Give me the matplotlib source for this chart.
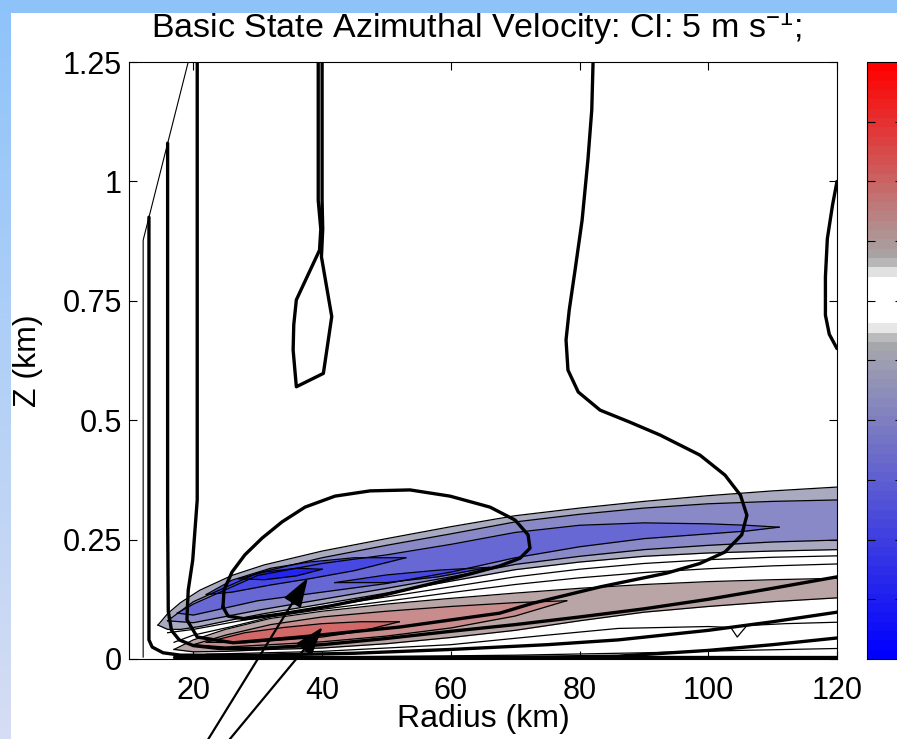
import numpy as np
import matplotlib
matplotlib.use('Agg')
import matplotlib.pyplot as plt
from matplotlib.colors import LinearSegmentedColormap, Normalize
from matplotlib.patches import Rectangle
from matplotlib.cm import ScalarMappable

plt.rcParams['font.family'] = ['Liberation Sans', 'DejaVu Sans']
plt.rcParams['mathtext.fontset'] = 'custom'
plt.rcParams['mathtext.rm'] = 'Liberation Sans'
plt.rcParams['mathtext.it'] = 'Liberation Sans'

# ---------------- text / ticks ----------------
title_text = 'Basic State Azimuthal Velocity: CI: 5 m s$^{-1}$;'
x_label = 'Radius (km)'
y_label = 'Z (km)'
x_ticks = [20, 40, 60, 80, 100, 120]
y_ticks = [0, 0.25, 0.5, 0.75, 1, 1.25]
y_tick_labels = ['0', '0.25', '0.5', '0.75', '1', '1.25']
cbar_range = [-12, 8]
cbar_ticks = [-10, -8, -6, -4, -2, 0, 2, 4, 6]

# ---------------- shaded field (radius km, lower z, upper z) ----------------
b1_r = [14.5, 16, 18, 21, 26, 31, 40, 50, 60, 70, 80, 90, 100, 110, 120]
b1_lo = [0.071, 0.062, 0.062, 0.068, 0.082, 0.095, 0.115, 0.138, 0.163, 0.187, 0.203, 0.215, 0.222, 0.226, 0.229]
b1_hi = [0.071, 0.095, 0.118, 0.144, 0.175, 0.197, 0.226, 0.252, 0.277, 0.300, 0.316, 0.330, 0.342, 0.352, 0.360]

b2_r = [16, 20, 30, 40, 50, 60, 70, 80, 90, 100, 110, 120]
b2_lo = [0.080, 0.076, 0.102, 0.125, 0.148, 0.172, 0.198, 0.215, 0.229, 0.238, 0.245, 0.249]
b2_hi = [0.080, 0.120, 0.180, 0.212, 0.238, 0.262, 0.287, 0.303, 0.316, 0.325, 0.330, 0.333]

b3_r = [17.5, 20, 30, 40, 50, 60, 70, 80, 90, 100, 106, 111]
b3_lo = [0.096, 0.092, 0.122, 0.140, 0.158, 0.182, 0.212, 0.235, 0.252, 0.262, 0.268, 0.276]
b3_hi = [0.096, 0.115, 0.175, 0.200, 0.218, 0.240, 0.265, 0.280, 0.285, 0.283, 0.280, 0.276]

b4a_r = [22, 26, 32, 38, 45, 53]
b4a_lo = [0.135, 0.140, 0.155, 0.168, 0.185, 0.212]
b4a_hi = [0.135, 0.165, 0.190, 0.203, 0.212, 0.212]

b4b_r = [42, 50, 58, 66]
b4b_lo = [0.160, 0.160, 0.172, 0.192]
b4b_hi = [0.160, 0.176, 0.186, 0.192]

b5_r = [27, 31, 36, 40]
b5_lo = [0.168, 0.166, 0.174, 0.188]
b5_hi = [0.168, 0.182, 0.190, 0.188]

r1_r = [17, 20, 25, 32, 40, 50, 60, 70, 80, 90, 100, 110, 120]
r1_lo = [0.020, 0.015, 0.016, 0.020, 0.023, 0.032, 0.045, 0.060, 0.080, 0.098, 0.110, 0.120, 0.128]
r1_hi = [0.020, 0.040, 0.062, 0.085, 0.100, 0.115, 0.127, 0.138, 0.148, 0.156, 0.162, 0.166, 0.169]

r2_r = [20, 25, 32, 40, 50, 60, 70, 78]
r2_lo = [0.030, 0.025, 0.030, 0.036, 0.048, 0.065, 0.090, 0.122]
r2_hi = [0.030, 0.050, 0.072, 0.088, 0.100, 0.110, 0.118, 0.122]

r3_r = [22, 28, 34, 40, 46, 52]
r3_lo = [0.035, 0.034, 0.040, 0.046, 0.058, 0.078]
r3_hi = [0.035, 0.055, 0.066, 0.074, 0.078, 0.078]

band_colors = {'b1': '#A9A9C0', 'b2': '#8989C8', 'b3': '#6868D4', 'b4': '#4848E2',
               'b5': '#2424F2', 'r1': '#B9A5A5', 'r2': '#C88C8C', 'r3': '#D26868'}

# thin contours of the shaded field in the unshaded gaps
w1_r = [16, 20, 26, 32, 40, 50, 60, 70, 80, 90, 100, 110, 120]
w1_z = [0.055, 0.062, 0.077, 0.091, 0.109, 0.130, 0.151, 0.172, 0.188, 0.200, 0.208, 0.213, 0.216]
w2_r = [17, 20, 26, 32, 40, 50, 60, 70, 80, 90, 100, 110, 120]
w2_z = [0.035, 0.050, 0.068, 0.088, 0.104, 0.121, 0.139, 0.156, 0.170, 0.181, 0.189, 0.195, 0.199]
u1_r = [22, 40, 60, 75, 86, 100, 103.5, 104.5, 106, 112, 120]
u1_z = [0.010, 0.016, 0.030, 0.050, 0.064, 0.068, 0.066, 0.046, 0.070, 0.074, 0.077]
u2_r = [40, 70, 90, 105, 120]
u2_z = [0.004, 0.008, 0.013, 0.018, 0.022]

# edge of the domain (thin line at upper left)
edge_r = [19.2, 12.2, 12.2]
edge_z = [1.25, 0.877, 0.004]

# ---------------- azimuthal velocity contours (thick) ----------------
ks_r = [82.1, 81.9, 81.3, 80.4, 79.3, 78.4, 77.9, 78.2, 79.8, 83.2, 87.8, 92.5, 98.7, 102.6,
        105.0, 106.0, 105.2, 102.6, 98.7, 93.6, 83.2, 72.8, 67.6, 52.1, 36.6, 26.2, 20.6,
        19.0, 19.2, 19.9, 20.6, 20.6]
ks_z = [1.25, 1.15, 1.045, 0.919, 0.814, 0.731, 0.668, 0.605, 0.559, 0.521, 0.496, 0.469, 0.427, 0.385,
        0.343, 0.301, 0.260, 0.224, 0.200, 0.180, 0.151, 0.117, 0.096, 0.067, 0.046, 0.034, 0.046,
        0.082, 0.144, 0.207, 0.333, 1.25]

klobe_r = [24.6, 24.76, 26.0, 28.0, 30.67, 33.77, 37.35, 42.0, 47.45, 53.66, 59.88, 66.09, 69.98,
           72.0, 72.3, 70.75, 67.64, 62.98, 56.77, 49.0, 41.23, 33.46, 28.02, 25.38, 24.6]
klobe_z = [0.109, 0.1445, 0.182, 0.218, 0.253, 0.287, 0.318, 0.341, 0.352, 0.354, 0.341, 0.318, 0.291,
           0.260, 0.232, 0.211, 0.195, 0.178, 0.157, 0.132, 0.111, 0.094, 0.084, 0.090, 0.109]

kt_r = [39.4, 39.4, 39.8, 39.6, 36.0, 35.6, 35.5, 36.0, 40.2, 41.5, 39.9, 40.1, 40.0, 40.0]
kt_z = [1.25, 0.96, 0.90, 0.856, 0.752, 0.70, 0.647, 0.570, 0.598, 0.717, 0.842, 0.90, 0.96, 1.25]

k2_r = [16.0, 16.0, 16.1, 16.6, 17.8, 20, 24, 30, 40, 50, 60, 70, 80, 90, 100, 110, 120]
k2_z = [1.08, 0.30, 0.10, 0.060, 0.040, 0.028, 0.022, 0.022, 0.030, 0.043, 0.058, 0.072, 0.088, 0.105, 0.125, 0.148, 0.172]

k3_r = [13.1, 13.1, 13.1, 13.6, 15.3, 18, 30, 45, 60, 75, 86, 100, 110, 120]
k3_z = [0.925, 0.30, 0.040, 0.025, 0.013, 0.008, 0.008, 0.012, 0.020, 0.030, 0.040, 0.060, 0.078, 0.098]

k4_r = [17, 120]
k4_z = [0.004, 0.004]

k5_r = [60, 75, 86, 100, 110, 120]
k5_z = [0.003, 0.004, 0.006, 0.018, 0.030, 0.044]

kr_r = [120, 119.3, 118.5, 118.2, 118.2, 118.8, 120]
kr_z = [1.00, 0.95, 0.88, 0.80, 0.72, 0.68, 0.65]

# annotation arrows: (tail, tip) in data units
arrow1 = ((21.3, -0.19), (37.8, 0.170))
arrow2 = ((24.3, -0.19), (40.1, 0.067))

# ---------------- figure ----------------
W, H = 897, 739
TOP = 13  # height of the slide strip at the top, px
fig = plt.figure(figsize=(W / 100, H / 100), dpi=100)
fig.patch.set_facecolor('white')

# slide background: left gradient strip and top strip
axbg = fig.add_axes([0, 0, 10 / W, 1])
grad_cmap = LinearSegmentedColormap.from_list('g', ['#D6DDF3', '#8EC3FA'])
axbg.imshow(np.linspace(0, 1, 256).reshape(-1, 1), cmap=grad_cmap, aspect='auto',
            origin='lower', extent=[0, 1, 0, 1])
axbg.set_axis_off()
fig.patches.append(Rectangle((0, 1 - TOP / H), 1, TOP / H, transform=fig.transFigure,
                             facecolor='#8EC3FA', edgecolor='none', zorder=20))

ax = fig.add_axes([129 / W, 80 / H, 708 / W, 597 / H])
ax.set_xlim(10, 120)
ax.set_ylim(0, 1.25)


def band(r, lo, hi, color):
    ax.fill_between(r, lo, hi, color=color, lw=0, zorder=1)
    ax.plot(r, lo, color='k', lw=0.9, zorder=2)
    ax.plot(r, hi, color='k', lw=0.9, zorder=2)


band(b1_r, b1_lo, b1_hi, band_colors['b1'])
band(b2_r, b2_lo, b2_hi, band_colors['b2'])
band(b3_r, b3_lo, b3_hi, band_colors['b3'])
band(b4a_r, b4a_lo, b4a_hi, band_colors['b4'])
band(b4b_r, b4b_lo, b4b_hi, band_colors['b4'])
band(b5_r, b5_lo, b5_hi, band_colors['b5'])
band(r1_r, r1_lo, r1_hi, band_colors['r1'])
band(r2_r, r2_lo, r2_hi, band_colors['r2'])
band(r3_r, r3_lo, r3_hi, band_colors['r3'])

for rr, zz in [(w1_r, w1_z), (w2_r, w2_z), (u1_r, u1_z), (u2_r, u2_z)]:
    ax.plot(rr, zz, color='k', lw=0.9, zorder=2)
ax.plot(edge_r, edge_z, color='k', lw=0.8, zorder=2)

for rr, zz in [(ks_r, ks_z), (klobe_r, klobe_z), (kt_r, kt_z), (k2_r, k2_z),
               (k3_r, k3_z), (k4_r, k4_z), (k5_r, k5_z), (kr_r, kr_z)]:
    ax.plot(rr, zz, color='k', lw=2.4, zorder=3, solid_joinstyle='round',
            solid_capstyle='round')

for tail, tip in [arrow1, arrow2]:
    ax.annotate('', xy=tip, xytext=tail, xycoords='data', textcoords='data',
                annotation_clip=False,
                arrowprops=dict(arrowstyle='-|>,head_length=0.9,head_width=0.3',
                                mutation_scale=20, lw=1.6, color='k',
                                shrinkA=0, shrinkB=0), zorder=5)

ax.set_xticks(x_ticks)
ax.set_xticklabels([str(v) for v in x_ticks])
ax.set_yticks(y_ticks)
ax.set_yticklabels(y_tick_labels)
ax.tick_params(direction='in', length=6, width=0.8, top=True, right=True,
               labelsize=22, colors='k')
ax.tick_params(axis='x', pad=12)
ax.tick_params(axis='y', pad=5)
for s in ax.spines.values():
    s.set_linewidth(0.8)
ax.set_xlabel(x_label, fontsize=23)
ax.xaxis.set_label_coords(0.5, -0.101)
ax.xaxis.label.set_va('center')
ax.set_ylabel(y_label, fontsize=23)
ax.yaxis.set_label_coords(-0.1427, 0.5)
ax.yaxis.label.set_va('center')

fig.text(476 / W, 1 - 38 / H, title_text, ha='center', va='baseline', fontsize=24.5, zorder=5)

# colorbar (extends past the right edge of the picture)
cmap = LinearSegmentedColormap.from_list('rb', [
    (0.0, '#0000FF'), (0.53, '#A8A8AC'), (0.545, '#C6C6C6'), (0.555, '#E4E4E4'),
    (0.56, '#FFFFFF'), (0.645, '#FFFFFF'), (0.65, '#E4E4E4'), (0.66, '#C4C4C4'),
    (0.675, '#A6A6A6'), (1.0, '#FF0000')], N=64)
cax = fig.add_axes([867 / W, 80 / H, 36 / W, 597 / H])
cb = fig.colorbar(ScalarMappable(norm=Normalize(*cbar_range), cmap=cmap), cax=cax)
cb.set_ticks(cbar_ticks)
cax.tick_params(direction='in', length=6, width=0.8, left=True, right=True,
                labelleft=False, labelright=False)
cb.outline.set_linewidth(0.8)

fig.savefig('out.png', dpi=100)
